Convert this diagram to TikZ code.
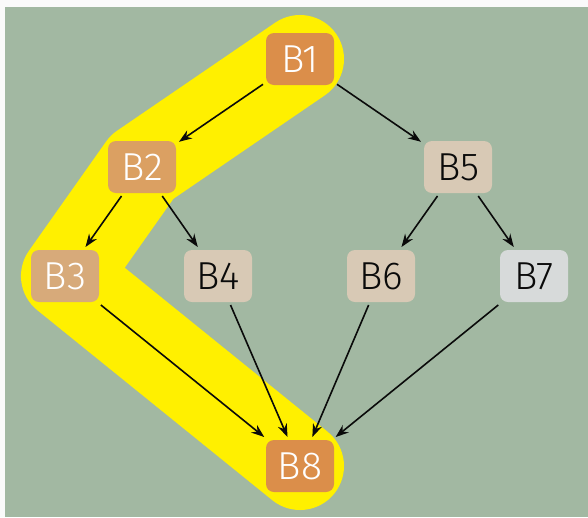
\documentclass[tikz,border=0pt]{standalone}
\usepackage{fontspec}
\setmainfont{Fira Sans Light}
\usetikzlibrary{arrows.meta,backgrounds}
\definecolor{pageWhite}{RGB}{250, 250, 250}
\definecolor{sageBg}{RGB}{162, 184, 162}
\definecolor{hlYellow}{RGB}{255, 240, 0}
\definecolor{inkBlack}{RGB}{10, 10, 10}
\definecolor{hotOrange}{RGB}{219, 142, 74}
\definecolor{warmOrange}{RGB}{219, 160, 98}
\definecolor{paleOrange}{RGB}{215, 170, 122}
\definecolor{sandBeige}{RGB}{216, 201, 181}
\definecolor{coolGrey}{RGB}{215, 218, 218}

\begin{document}
\begin{tikzpicture}[x=1pt, y=-1pt,
    block/.style={rounded corners=8pt, minimum width=68pt, minimum height=52pt,
        inner sep=0pt, outer sep=3pt, font=\fontsize{39pt}{39pt}\selectfont},
    hot/.style={block, fill=hotOrange, text=white},
    cold/.style={block, fill=sandBeige, text=inkBlack},
    flow/.style={-{Stealth[length=13pt,width=9.5pt]}, line width=1.6pt, draw=inkBlack}]

    % blocks of the graph
    \node[hot] (b1) at (300, 59) {B1};
    \node[block, fill=warmOrange, text=white] (b2) at (142, 167) {B2};
    \node[block, fill=paleOrange, text=white] (b3) at (65, 276) {B3};
    \node[cold] (b4) at (218, 276) {B4};
    \node[cold] (b5) at (458, 167) {B5};
    \node[cold] (b6) at (381, 276) {B6};
    \node[block, fill=coolGrey, text=inkBlack] (b7) at (534, 276) {B7};
    \node[hot] (b8) at (300, 466) {B8};

    % edges
    \draw[flow] (b1) -- (b2);
    \draw[flow] (b1) -- (b5);
    \draw[flow] (b2) -- (b3);
    \draw[flow] (b2) -- (b4);
    \draw[flow] (b5) -- (b6);
    \draw[flow] (b5) -- (b7);
    \draw[flow] (b3) -- (b8);
    \draw[flow] (b4) -- (b8);
    \draw[flow] (b6) -- (b8);
    \draw[flow] (b7) -- (b8);

    \begin{pgfonlayer}{background}
        \fill[pageWhite] (0, 0) rectangle (588, 517);
        \fill[sageBg] (5, 7) rectangle (588, 517);
        % hot path
        \draw[hlYellow, line width=88pt, line cap=round, line join=round]
            (b1.center) -- (b2.center) -- (b3.center) -- (b8.center);
    \end{pgfonlayer}
\end{tikzpicture}
\end{document}
